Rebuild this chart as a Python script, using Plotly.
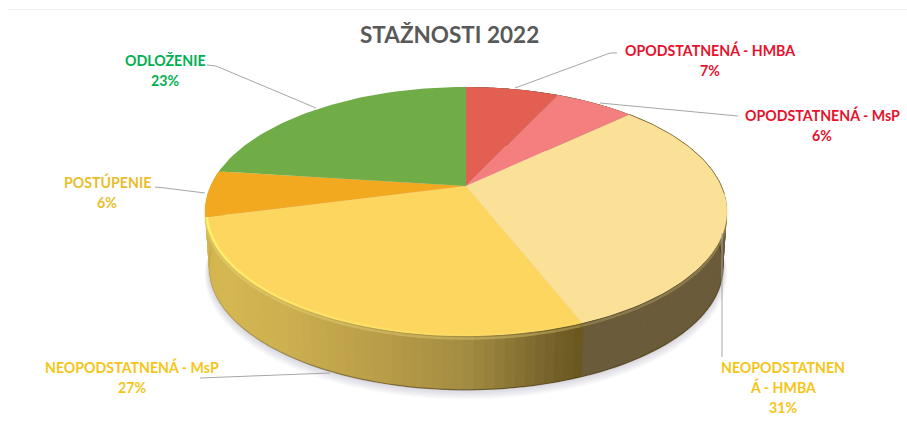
import numpy as np
import plotly.graph_objects as go

# ---------- data ----------
categories = ["OPODSTATNENÁ - HMBA", "OPODSTATNENÁ - MsP", "NEOPODSTATNEN<br>Á - HMBA",
              "NEOPODSTATNENÁ - MsP", "POSTÚPENIE", "ODLOŽENIE"]
values = [7, 6, 31, 27, 6, 23]
slice_colors = ["#e35f52", "#f47f7f", "#fbe097", "#fdd660", "#f2a81f", "#70ad47"]
label_colors = ["#e8112d", "#e8112d", "#f5c518", "#f5c518", "#e9bd2c", "#00b050"]
title_text = "STAŽNOSTI 2022"

# ---------- view geometry (pixels) ----------
W, H = 907, 443
CX, CY, A, B, K = 466, 186, 255.5, 119.3, 0.205
DROP, SHRINK = 56, 0.985
LINE_STEP = 20
label_xy = [(710, 50), (822, 115), (783, 367), (132, 367), (107, 182), (165, 60)]
leaders = [
    [(617, 53), (610, 53), (515, 88)],
    [(738, 116), (600, 103)],
    [(722, 233), (722, 357)],
    [(200, 378), (270, 375), (330, 373)],
    [(155, 187), (165, 188), (205, 193)],
    [(207, 65), (216, 66), (316, 108)],
]


def proj(f, s=1.0, d=0.0):
    """Pie fraction (0 = top, clockwise) to perspective pixel position."""
    a = 2 * np.pi * np.asarray(f, dtype=float)
    u, v = np.sin(a), -np.cos(a)
    w = 1 - K * v
    return CX + s * A * u / w, CY + d + s * B * v / w


def hex2rgb(c):
    return np.array([int(c[i:i + 2], 16) for i in (1, 3, 5)], dtype=float)


def grad(f, stops):
    fs = [p[0] for p in stops]
    cols = np.array([hex2rgb(p[1]) for p in stops])
    r = [np.interp(f, fs, cols[:, i]) for i in range(3)]
    return "rgb(%d,%d,%d)" % tuple(r)


fig = go.Figure()


def poly(x, y, color, line=None):
    fig.add_trace(go.Scatter(x=x, y=y, mode="lines", fill="toself", fillcolor=color,
                             line=dict(color=line or color, width=0.8 if line else 0),
                             hoverinfo="skip", showlegend=False))


def stroke(x, y, color, width):
    fig.add_trace(go.Scatter(x=x, y=y, mode="lines", line=dict(color=color, width=width),
                             hoverinfo="skip", showlegend=False))


fr = np.linspace(0, 1, 241)

# soft shadow under the disc
for i in range(1, 9):
    sx, sy = proj(fr, SHRINK + 0.002 * i, DROP + 0.9 * i)
    poly(sx, sy, "rgba(120,125,135,0.035)")

# side wall, fractions are derived from the values
cum = np.cumsum([0] + values) / sum(values)
side_stops = [
    (cum[2], "#6a5b3a"), (cum[3] - 0.002, "#6a5b3a"), (cum[3], "#6a571f"), (cum[3] + 0.015, "#75612a"),
    (cum[3] + 0.04, "#8f7a38"), (0.50, "#a38c42"), (0.54, "#b89c48"), (0.60, "#cdb050"),
    (0.66, "#d6b853"), (cum[4], "#d2b34e"), (cum[5], "#d2b34e"),
]
edges = np.linspace(cum[2] - 0.13, cum[5], 150)
for f0, f1 in zip(edges[:-1], edges[1:]):
    seg = np.linspace(f0, f1 + 0.006, 3)
    tx, ty = proj(seg)
    bx, by = proj(seg, SHRINK, DROP)
    poly(np.r_[tx, bx[::-1]], np.r_[ty, by[::-1]], grad((f0 + f1) / 2, side_stops))

# darker foot of the wall
fx = np.linspace(0.24, 0.74, 121)
for a0, b0 in zip(fx[:-1], fx[1:]):
    t = np.clip(1 - (a0 - 0.52) / 0.2, 0, 1)
    bx, by = proj([a0, b0], SHRINK, DROP)
    stroke(bx, by, "rgba(70,52,10,%.2f)" % (0.08 + 0.5 * t), 1.2)

# soft band just below the rim
for f0, f1 in zip(fr[:-1], fr[1:]):
    if 0.13 <= f0 <= 0.75:
        tx, ty = proj([f0, f1], 1.0, 2.5)
        col = "rgba(240,220,130,%.2f)" % (0.35 if f0 > cum[3] else 0.25)
        stroke(tx, ty, col, 2.5)

# top face
for i, col in enumerate(slice_colors):
    seg = np.linspace(cum[i], cum[i + 1], 60)
    tx, ty = proj(seg)
    poly(np.r_[CX, tx, CX], np.r_[CY, ty, CY], col)

# lit bevel on the rim
hl = np.linspace(cum[3], cum[4], 90)
for a0, b0 in zip(hl[:-1], hl[1:]):
    t = np.clip((a0 - cum[3] - 0.05) / (cum[4] - cum[3] - 0.05), 0, 1)
    tx, ty = proj([a0, b0], 0.994)
    stroke(tx, ty, "rgba(255,243,110,%.2f)" % (0.1 + 0.9 * t), 2.5)

# thin dark edge on the far right rim
ed = np.linspace(cum[2] + 0.0, cum[2] + 0.13, 40)
ex, ey = proj(ed)
stroke(ex, ey, "rgba(120,100,50,0.75)", 1)

# leader lines
for pts in leaders:
    stroke([p[0] for p in pts], [p[1] for p in pts], "#a6a6a6", 1)

# labels: each text line placed on a fixed step
for name, val, col, (x, y) in zip(categories, values, label_colors, label_xy):
    for j, part in enumerate(name.split("<br>") + [f"{val}%"]):
        fig.add_annotation(x=x, y=y + j * LINE_STEP, xref="x", yref="y", showarrow=False,
                           text=f"<b>{part}</b>",
                           font=dict(family="Lato, Carlito, sans-serif", size=14.2, color=col))

fig.add_annotation(x=449, y=34, xref="x", yref="y", showarrow=False, text=f"<b>{title_text}</b>",
                   font=dict(family="Lato, Carlito, sans-serif", size=22.5, color="#595959"))

fig.add_shape(type="line", x0=8, x1=W, y0=9.5, y1=9.5, xref="x", yref="y",
              line=dict(color="#f0f0f0", width=1))

fig.update_layout(
    width=W, height=H, margin=dict(l=0, r=0, t=0, b=0),
    paper_bgcolor="white", plot_bgcolor="white", showlegend=False,
    xaxis=dict(range=[0, W], visible=False, fixedrange=True),
    yaxis=dict(range=[H, 0], visible=False, fixedrange=True),
)
fig.write_html("out.html", post_script="document.body.style.margin='0';",
               config=dict(displayModeBar=False))
